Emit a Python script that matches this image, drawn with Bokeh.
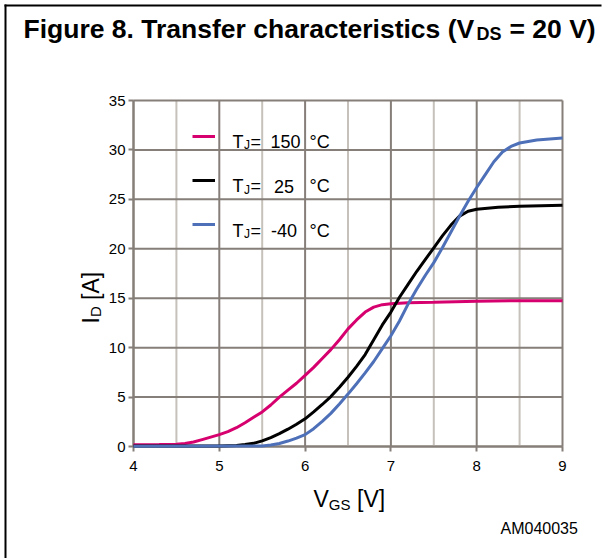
import math
from bokeh.plotting import figure
from bokeh.models import FixedTicker, Label, Legend, LegendItem, Range1d, BoxAnnotation
from bokeh.embed import file_html
from bokeh.resources import INLINE

# ---------------- data ----------------
v_150 = [4.0, 4.3, 4.5, 4.6, 4.7, 4.8, 4.9, 5.0, 5.1, 5.2, 5.3, 5.4, 5.5, 5.6, 5.7, 5.8, 5.9, 6.0,
         6.1, 6.2, 6.3, 6.4, 6.5, 6.6, 6.7, 6.8, 6.9, 7.0, 7.2, 7.5, 8.0, 8.5, 9.0]
i_150 = [0.17, 0.2, 0.24, 0.3, 0.45, 0.7, 0.95, 1.2, 1.5, 1.9, 2.4, 2.95, 3.5, 4.2, 5.0, 5.7, 6.4, 7.2,
         8.0, 8.9, 9.8, 10.8, 11.9, 12.8, 13.6, 14.1, 14.35, 14.45, 14.55, 14.6, 14.7, 14.75, 14.75]

v_25 = [4.0, 5.0, 5.2, 5.3, 5.4, 5.5, 5.6, 5.7, 5.8, 5.9, 6.0, 6.1, 6.2, 6.3, 6.4, 6.5, 6.6, 6.7,
        6.8, 6.9, 7.0, 7.1, 7.2, 7.3, 7.4, 7.5, 7.6, 7.7, 7.8, 7.9, 8.0, 8.25, 8.5, 9.0]
i_25 = [0.05, 0.05, 0.1, 0.2, 0.32, 0.57, 0.9, 1.3, 1.75, 2.25, 2.8, 3.5, 4.25, 5.05, 6.0, 7.0, 8.1, 9.3,
        10.8, 12.3, 13.6, 15.1, 16.4, 17.7, 18.9, 20.1, 21.3, 22.4, 23.3, 23.8, 24.0, 24.2, 24.3, 24.4]

v_m40 = [4.0, 5.5, 5.6, 5.7, 5.8, 5.9, 6.0, 6.1, 6.2, 6.3, 6.4, 6.5, 6.6, 6.7, 6.8, 6.9, 7.0, 7.1,
         7.2, 7.3, 7.4, 7.5, 7.6, 7.7, 7.8, 7.9, 8.0, 8.1, 8.2, 8.3, 8.4, 8.5, 8.7, 9.0]
i_m40 = [0.02, 0.05, 0.15, 0.3, 0.55, 0.85, 1.2, 1.8, 2.55, 3.35, 4.3, 5.3, 6.35, 7.45, 8.6, 9.9, 11.2, 12.7,
         14.4, 15.9, 17.3, 18.6, 20.1, 21.7, 23.3, 24.8, 26.2, 27.5, 28.8, 29.8, 30.35, 30.7, 31.0, 31.2]

x_ticks = [4, 5, 6, 7, 8, 9]
x_minor = [4.5, 5.5, 6.5, 7.5, 8.5]
y_ticks = [0, 5, 10, 15, 20, 25, 30, 35]
x_lim = (4, 9)
y_lim = (0, 35)

legend_values = ["150", "25", "-40"]

# ---------------- layout ----------------
FONT = "Liberation Sans"
W, H = 604, 558
FL, FR, FT, FB = 133, 562, 100, 446   # plot-area edges on the page

# the frame covers the whole canvas; the ranges are widened so that the
# plot area (x_lim, y_lim) lands on FL..FR / FT..FB
sx = (FR - FL) / (x_lim[1] - x_lim[0])
sy = (FB - FT) / (y_lim[1] - y_lim[0])
x_range = Range1d(x_lim[0] - FL / sx, x_lim[1] + (W - FR) / sx)
y_range = Range1d(y_lim[0] - (H - FB) / sy, y_lim[1] + FT / sy)

C150 = "#d6006e"
C25 = "#000000"
CM40 = "#4d70b8"
DARK = "#857e79"
LIGHT = "#c6c1ba"

p = figure(width=W, height=H, x_range=x_range, y_range=y_range,
           output_backend="svg", toolbar_location=None,
           min_border=0, min_border_left=0, min_border_right=0,
           min_border_top=0, min_border_bottom=0,
           styles={"position": "absolute", "left": "0px", "top": "0px"})
p.background_fill_color = "white"
p.border_fill_color = "white"
p.outline_line_color = None
p.xgrid.visible = False
p.ygrid.visible = False

# axes drawn at fixed positions inside the frame
p.xaxis.ticker = FixedTicker(ticks=x_ticks, minor_ticks=x_minor)
p.yaxis.ticker = FixedTicker(ticks=y_ticks)
p.xaxis.fixed_location = y_lim[0]
p.yaxis.fixed_location = x_lim[0]
p.xaxis.bounds = x_lim
p.yaxis.bounds = y_lim
for ax in (p.xaxis, p.yaxis):
    ax.level = "underlay"
    ax.axis_line_color = DARK
    ax.axis_line_width = 2
    ax.major_tick_line_color = DARK
    ax.major_tick_line_width = 2
    ax.major_tick_out = 5
    ax.major_tick_in = 0
    ax.minor_tick_line_color = None
    ax.major_label_text_font = FONT
    ax.major_label_text_font_size = "15px"
    ax.major_label_text_color = "black"
p.xaxis.major_label_standoff = 9
p.yaxis.major_label_standoff = 3

# grid lines from the tick arrays
p.segment(x0=x_minor, y0=[y_lim[0]] * len(x_minor), x1=x_minor, y1=[y_lim[1]] * len(x_minor),
          line_color=LIGHT, line_width=2)
p.segment(x0=x_ticks, y0=[y_lim[0]] * len(x_ticks), x1=x_ticks, y1=[y_lim[1]] * len(x_ticks),
          line_color=DARK, line_width=2)
p.segment(x0=[x_lim[0]] * len(y_ticks), y0=y_ticks, x1=[x_lim[1]] * len(y_ticks), y1=y_ticks,
          line_color=DARK, line_width=2)

# curves
r150 = p.line(v_150, i_150, line_color=C150, line_width=3)
r25 = p.line(v_25, i_25, line_color=C25, line_width=3)
rm40 = p.line(v_m40, i_m40, line_color=CM40, line_width=3)

# legend (line samples only; texts are labels below)
leg = Legend(items=[LegendItem(label="", renderers=[r150]),
                    LegendItem(label="", renderers=[r25]),
                    LegendItem(label="", renderers=[rm40])],
             location=(192, H - 239),
             glyph_width=23, glyph_height=30, spacing=14, padding=0, margin=0,
             label_standoff=0, label_text_font=FONT, label_text_font_size="18px",
             background_fill_alpha=0, border_line_color=None)
p.add_layout(leg)


def lab(px, py, text, size, bold=False, angle=0.0):
    # canvas units: origin at the top-left corner of the canvas, y downwards
    p.add_layout(Label(x=px, y=py, x_units="canvas", y_units="canvas", text=text,
                       text_font=FONT, text_font_size=size,
                       text_font_style="bold" if bold else "normal",
                       text_color="black", text_align="left", text_baseline="alphabetic",
                       angle=angle))


# outer frame of the figure box (left and top edges)
p.add_layout(BoxAnnotation(left=4, right=6, top=4, bottom=H,
                           left_units="canvas", right_units="canvas",
                           top_units="canvas", bottom_units="canvas",
                           fill_color="black", fill_alpha=1, line_color=None))
p.add_layout(BoxAnnotation(left=4, right=601, top=4, bottom=6,
                           left_units="canvas", right_units="canvas",
                           top_units="canvas", bottom_units="canvas",
                           fill_color="black", fill_alpha=1, line_color=None))

# legend text parts
row_base = [141, 185.5, 230]
num_x = [270, 273.5, 270.5]
for base, val, nx in zip(row_base, legend_values, num_x):
    lab(232, base, "T", "18px")
    lab(243.5, base + 3.5, "J", "12px")
    lab(250, base, "=", "18px")
    lab(nx, base, val, "18px")
    lab(309, base, "°C", "18px")

# title
lab(23, 28, "Figure 8. Transfer characteristics (V", "26.5px", bold=True)
lab(476, 33, "DS", "18px", bold=True)
lab(509, 28, "= 20 V)", "26.5px", bold=True)

# x axis label
lab(313, 498, "V", "23px")
lab(328.3, 504, "GS", "15px")
lab(356.5, 498, "[V]", "23px")

# y axis label (rotated)
lab(90, 323, "I", "23px", angle=math.pi / 2)
lab(95, 316.6, "D", "15px", angle=math.pi / 2)
lab(90, 299.4, "[A]", "23px", angle=math.pi / 2)

# figure code
lab(500, 528, "AM040035", "16px")

open("out.html", "w").write(file_html(p, INLINE))
